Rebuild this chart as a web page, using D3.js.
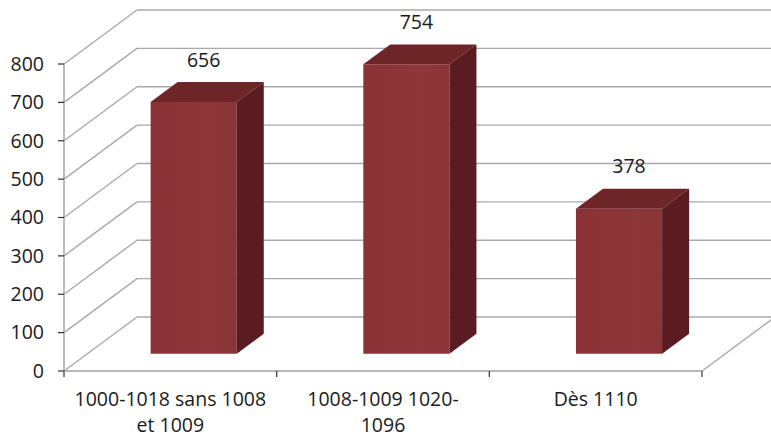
<!DOCTYPE html>
<html>
<head>
<meta charset="utf-8">
<script src="https://cdn.jsdelivr.net/npm/d3@7"></script>
<style>
  html, body { margin: 0; padding: 0; background: #fff; }
  svg { display: block; font-family: "Open Sans", "Noto Sans", sans-serif; }
</style>
</head>
<body>
<div id="chart"></div>
<script>
// ── Data ──────────────────────────────────────────────
const categories = ['1000-1018 sans 1008\net 1009', '1008-1009 1020-\n1096', 'Dès 1110'];
const values = [656, 754, 378];
const yTicks = [0, 100, 200, 300, 400, 500, 600, 700, 800];

// ── Layout ────────────────────────────────────────────
const W = 771, H = 438;
const x0 = 64, x1 = 702;      // front floor edge
const yBase = 371, yTop = 64; // front axis 0 → 800
const depth = { dx: 73, dy: -54 }; // full depth of the 3D box
const barFront = 0.32, barBack = 0.69; // bar position inside the depth
const barRatio = 0.405;

const svg = d3.select('#chart').append('svg')
  .attr('width', W).attr('height', H);

const x = d3.scaleBand().domain(categories).range([x0, x1]).padding(0);
const y = d3.scaleLinear().domain([0, 800]).range([yBase, yTop]);

// project a point (front x, value, depth fraction)
const P = (px, v, f) => [px + depth.dx * f, y(v) + depth.dy * f];

const grid = svg.append('g')
  .attr('fill', 'none')
  .attr('stroke', '#a9a9a9')
  .attr('stroke-width', 1.4);

// back wall horizontal lines
grid.selectAll('.back').data(yTicks).join('line')
  .attr('x1', d => P(x0, d, 1)[0]).attr('y1', d => P(x0, d, 1)[1])
  .attr('x2', d => P(x1, d, 1)[0]).attr('y2', d => P(x1, d, 1)[1]);

// left wall diagonals
grid.selectAll('.side').data(yTicks).join('line')
  .attr('x1', d => P(x0, d, 0)[0]).attr('y1', d => P(x0, d, 0)[1])
  .attr('x2', d => P(x0, d, 1)[0]).attr('y2', d => P(x0, d, 1)[1]);

// floor right edge
grid.append('line')
  .attr('x1', P(x1, 0, 0)[0]).attr('y1', P(x1, 0, 0)[1])
  .attr('x2', P(x1, 0, 1)[0]).attr('y2', P(x1, 0, 1)[1]);

// ── Bars ──────────────────────────────────────────────
const defs = svg.append('defs');
const g = defs.append('linearGradient').attr('id', 'front')
  .attr('x1', '0%').attr('x2', '100%').attr('y1', '0%').attr('y2', '0%');
g.append('stop').attr('offset', '0%').attr('stop-color', '#8a3236');
g.append('stop').attr('offset', '70%').attr('stop-color', '#8e373a');
g.append('stop').attr('offset', '100%').attr('stop-color', '#8a3438');

const bw = x.bandwidth() * barRatio;
const bars = categories.map((c, i) => {
  const cx = x(c) + x.bandwidth() / 2;
  return { c, v: values[i], l: cx - bw / 2, r: cx + bw / 2, cx };
});

const poly = pts => pts.map(p => p.join(',')).join(' ');
const barG = svg.append('g');

barG.selectAll('.front').data(bars).join('polygon')
  .attr('fill', 'url(#front)')
  .attr('points', d => poly([P(d.l, 0, barFront), P(d.r, 0, barFront), P(d.r, d.v, barFront), P(d.l, d.v, barFront)]));

barG.selectAll('.top').data(bars).join('polygon')
  .attr('fill', '#6d2528')
  .attr('points', d => poly([P(d.l, d.v, barFront), P(d.r, d.v, barFront), P(d.r, d.v, barBack), P(d.l, d.v, barBack)]));

barG.selectAll('.right').data(bars).join('polygon')
  .attr('fill', '#5a1b21')
  .attr('points', d => poly([P(d.r, 0, barFront), P(d.r, 0, barBack), P(d.r, d.v, barBack), P(d.r, d.v, barFront)]));

// ── Axes ──────────────────────────────────────────────
const axisG = svg.append('g');
axisG.append('line')
  .attr('x1', x0).attr('x2', x0).attr('y1', y(0)).attr('y2', y(800))
  .attr('stroke', '#a0a0a0').attr('stroke-width', 1.4);
axisG.append('line')
  .attr('x1', x0).attr('x2', x1).attr('y1', y(0)).attr('y2', y(0))
  .attr('stroke', '#a0a0a0').attr('stroke-width', 1.6);

axisG.selectAll('.yt').data(yTicks).join('line')
  .attr('x1', x0 - 6).attr('x2', x0).attr('y1', d => y(d)).attr('y2', d => y(d))
  .attr('stroke', '#333').attr('stroke-width', 1.2);

axisG.selectAll('.yl').data(yTicks).join('text')
  .attr('x', x0 - 20).attr('y', d => y(d))
  .attr('dy', '0.35em')
  .attr('text-anchor', 'end')
  .attr('font-size', 19.5).attr('fill', '#1a1a1a')
  .text(d => d);

const xTickPos = categories.map(c => x(c)).concat([x1]);
axisG.selectAll('.xt').data(xTickPos).join('line')
  .attr('x1', d => d).attr('x2', d => d).attr('y1', y(0)).attr('y2', y(0) + 6)
  .attr('stroke', '#333').attr('stroke-width', 1.2);

axisG.selectAll('.xl').data(categories).join('text')
  .attr('text-anchor', 'middle')
  .attr('font-size', 19.5).attr('fill', '#1a1a1a')
  .each(function (d) {
    const t = d3.select(this);
    d.split('\n').forEach((line, k) => {
      t.append('tspan')
        .attr('x', x(d) + x.bandwidth() / 2)
        .attr('y', y(0) + 35 + k * 26)
        .text(line);
    });
  });

// ── Value labels ──────────────────────────────────────
svg.append('g').selectAll('text').data(bars).join('text')
  .attr('x', d => P(d.cx, d.v, barFront)[0] + 10)
  .attr('y', d => P(d.cx, d.v, barFront)[1] - 42)
  .attr('dy', '0.35em')
  .attr('text-anchor', 'middle')
  .attr('font-size', 19.5).attr('fill', '#1a1a1a')
  .text(d => d.v);
</script>
</body>
</html>
